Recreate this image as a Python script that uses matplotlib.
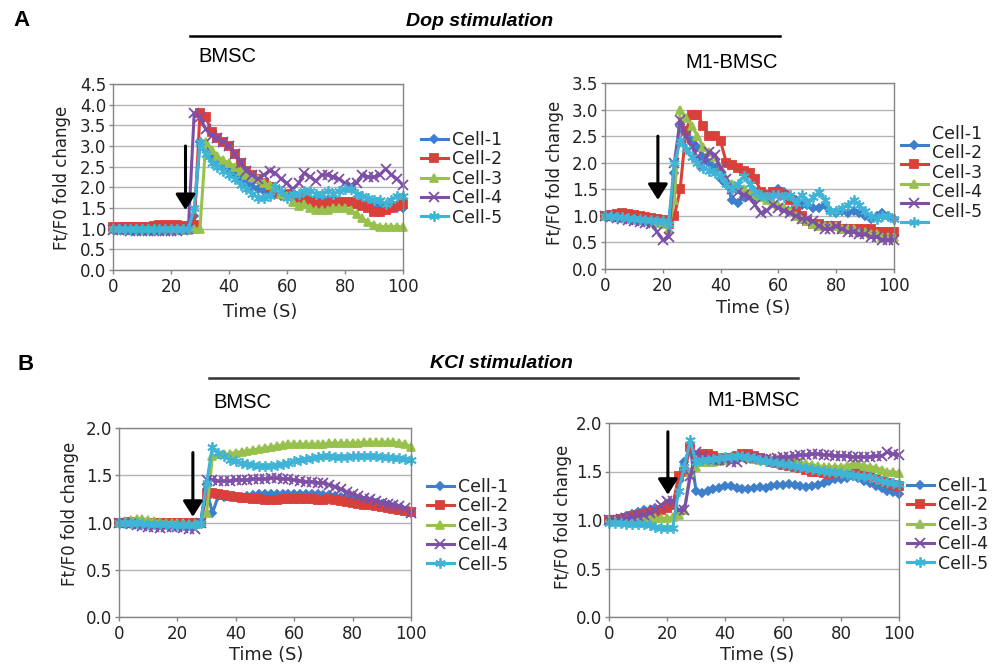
import matplotlib
matplotlib.use('Agg')
import matplotlib.pyplot as plt
from matplotlib.lines import Line2D

# ---------------- data ----------------
time_s = list(range(0, 101, 2))
cell_labels = ['Cell-1', 'Cell-2', 'Cell-3', 'Cell-4', 'Cell-5']
x_ticks = [0, 20, 40, 60, 80, 100]
y_ticks_dop_bmsc = [0.0, 0.5, 1.0, 1.5, 2.0, 2.5, 3.0, 3.5, 4.0, 4.5]
y_ticks_dop_m1 = [0.0, 0.5, 1.0, 1.5, 2.0, 2.5, 3.0, 3.5]
y_ticks_kcl = [0.0, 0.5, 1.0, 1.5, 2.0]

# Dop stimulation, BMSC
dop_bmsc_c1 = [1.00, 1.00, 1.01, 1.00, 1.00, 1.00, 0.99, 1.00, 1.00, 1.00,
               1.00, 1.00, 1.00, 1.00, 1.30, 3.10, 2.90, 2.70, 2.60, 2.50,
               2.40, 2.30, 2.20, 2.10, 2.00, 1.95, 1.90, 1.85, 1.85, 1.80,
               1.80, 1.80, 1.75, 1.75, 1.70, 1.70, 1.70, 1.70, 1.70, 1.65,
               1.65, 1.65, 1.60, 1.60, 1.60, 1.60, 1.55, 1.55, 1.50, 1.50,
               1.50]
dop_bmsc_c2 = [1.05, 1.05, 1.05, 1.05, 1.04, 1.05, 1.05, 1.06, 1.08, 1.10,
               1.10, 1.08, 1.06, 1.05, 1.10, 3.80, 3.70, 3.35, 3.20, 3.10,
               3.00, 2.80, 2.60, 2.40, 2.30, 2.20, 2.10, 2.00, 1.90, 1.85,
               1.85, 1.80, 1.75, 1.70, 1.65, 1.60, 1.60, 1.60, 1.65, 1.65,
               1.65, 1.65, 1.60, 1.55, 1.50, 1.40, 1.40, 1.45, 1.50, 1.55,
               1.60]
dop_bmsc_c3 = [0.98, 0.98, 0.98, 0.97, 0.97, 0.97, 0.97, 0.97, 0.97, 0.97,
               0.97, 0.97, 0.97, 0.97, 0.98, 1.00, 3.10, 2.90, 2.75, 2.65,
               2.60, 2.50, 2.40, 2.30, 2.25, 2.20, 2.10, 2.05, 2.00, 1.85,
               1.80, 1.65, 1.55, 1.60, 1.50, 1.45, 1.45, 1.45, 1.50, 1.50,
               1.50, 1.45, 1.35, 1.25, 1.15, 1.10, 1.05, 1.05, 1.05, 1.05,
               1.05]
dop_bmsc_c4 = [0.97, 0.96, 0.96, 0.95, 0.95, 0.95, 0.95, 0.95, 0.95, 0.95,
               0.95, 0.95, 0.96, 1.00, 3.80, 3.70, 3.40, 3.25, 3.20, 3.10,
               3.00, 2.80, 2.60, 2.40, 2.30, 2.20, 2.30, 2.40, 2.35, 2.20,
               2.10, 1.95, 2.10, 2.35, 2.25, 2.15, 2.30, 2.30, 2.25, 2.20,
               2.10, 2.05, 2.10, 2.30, 2.25, 2.25, 2.30, 2.45, 2.30, 2.20,
               2.05]
dop_bmsc_c5 = [1.00, 1.00, 0.99, 0.98, 0.98, 0.98, 0.98, 0.98, 0.98, 0.98,
               0.98, 0.98, 0.98, 0.99, 1.50, 3.10, 2.80, 2.60, 2.50, 2.40,
               2.30, 2.20, 2.05, 1.95, 1.85, 1.75, 1.75, 1.80, 2.00, 1.90,
               1.75, 1.85, 1.85, 1.90, 1.90, 1.85, 1.85, 1.90, 1.85, 1.90,
               1.95, 1.95, 1.85, 1.80, 1.75, 1.70, 1.70, 1.60, 1.70, 1.80,
               1.80]

# Dop stimulation, M1-BMSC
dop_m1_c1 = [1.00, 0.99, 0.98, 0.97, 0.96, 0.95, 0.94, 0.93, 0.92, 0.91,
             0.90, 0.85, 1.80, 2.70, 2.60, 2.40, 2.30, 2.10, 2.00, 1.90,
             1.70, 1.60, 1.30, 1.25, 1.35, 1.40, 1.30, 1.35, 1.40, 1.45,
             1.50, 1.45, 1.35, 1.30, 1.20, 1.20, 1.15, 1.15, 1.20, 1.10,
             1.05, 1.10, 1.05, 1.10, 1.05, 1.00, 0.95, 1.00, 1.05, 1.00,
             0.95]
dop_m1_c2 = [1.00, 1.02, 1.04, 1.05, 1.04, 1.02, 1.00, 0.98, 0.96, 0.94,
             0.92, 0.85, 1.00, 1.50, 2.60, 2.90, 2.90, 2.70, 2.50, 2.50,
             2.40, 2.00, 1.95, 1.90, 1.85, 1.80, 1.70, 1.45, 1.40, 1.45,
             1.45, 1.40, 1.30, 1.10, 1.00, 0.90, 0.85, 0.85, 0.80, 0.80,
             0.80, 0.75, 0.75, 0.75, 0.75, 0.75, 0.75, 0.70, 0.70, 0.70,
             0.70]
dop_m1_c3 = [1.00, 0.99, 0.98, 0.97, 0.96, 0.95, 0.93, 0.91, 0.89, 0.87,
             0.85, 0.75, 1.30, 3.00, 2.85, 2.70, 2.50, 2.30, 2.20, 2.10,
             1.90, 1.70, 1.60, 1.55, 1.50, 1.45, 1.40, 1.35, 1.30, 1.25,
             1.20, 1.15, 1.10, 1.00, 0.95, 0.90, 0.85, 0.80, 0.80, 0.80,
             0.80, 0.75, 0.75, 0.75, 0.70, 0.70, 0.65, 0.65, 0.60, 0.60,
             0.60]
dop_m1_c4 = [1.00, 0.98, 0.96, 0.94, 0.92, 0.90, 0.88, 0.86, 0.85, 0.70,
             0.55, 0.60, 2.00, 2.80, 2.50, 2.30, 2.10, 1.95, 2.20, 2.15,
             1.90, 1.70, 1.50, 1.45, 1.40, 1.35, 1.20, 1.05, 1.10, 1.20,
             1.15, 1.10, 1.05, 1.00, 0.95, 0.95, 0.90, 0.80, 0.75, 0.75,
             0.80, 0.75, 0.70, 0.70, 0.65, 0.65, 0.60, 0.60, 0.55, 0.55,
             0.55]
dop_m1_c5 = [1.00, 0.99, 0.98, 0.97, 0.96, 0.95, 0.94, 0.93, 0.92, 0.91,
             0.90, 0.85, 2.00, 2.40, 2.25, 2.10, 2.00, 1.90, 1.85, 1.80,
             1.75, 1.60, 1.50, 1.60, 1.75, 1.60, 1.45, 1.40, 1.35, 1.40,
             1.40, 1.35, 1.40, 1.25, 1.40, 1.25, 1.35, 1.45, 1.30, 1.10,
             1.10, 1.15, 1.20, 1.30, 1.20, 1.10, 1.00, 0.95, 1.00, 1.00,
             0.95]

# KCl stimulation, BMSC
kcl_bmsc_c1 = [1.00, 1.00, 1.00, 1.00, 1.00, 0.99, 0.99, 0.99, 0.98, 0.98,
               0.98, 0.98, 0.98, 0.98, 1.00, 1.35, 1.10, 1.28, 1.27, 1.27,
               1.27, 1.27, 1.28, 1.29, 1.30, 1.30, 1.30, 1.30, 1.30, 1.30,
               1.30, 1.30, 1.30, 1.30, 1.30, 1.29, 1.29, 1.28, 1.27, 1.26,
               1.25, 1.24, 1.23, 1.22, 1.21, 1.20, 1.18, 1.16, 1.14, 1.12,
               1.10]
kcl_bmsc_c2 = [1.00, 1.00, 1.01, 1.01, 1.00, 1.00, 1.00, 1.00, 1.00, 0.99,
               0.99, 0.99, 0.99, 0.99, 1.00, 1.30, 1.31, 1.30, 1.29, 1.28,
               1.27, 1.26, 1.26, 1.25, 1.25, 1.24, 1.24, 1.24, 1.25, 1.25,
               1.25, 1.25, 1.25, 1.25, 1.24, 1.24, 1.25, 1.24, 1.23, 1.22,
               1.21, 1.20, 1.19, 1.18, 1.17, 1.16, 1.15, 1.14, 1.13, 1.12,
               1.11]
kcl_bmsc_c3 = [1.00, 1.02, 1.03, 1.04, 1.04, 1.03, 1.02, 1.01, 1.00, 1.00,
               0.99, 0.99, 0.98, 0.98, 1.00, 1.10, 1.70, 1.72, 1.72, 1.73,
               1.74, 1.75, 1.76, 1.77, 1.78, 1.79, 1.80, 1.81, 1.82, 1.83,
               1.83, 1.83, 1.83, 1.83, 1.83, 1.83, 1.84, 1.84, 1.84, 1.84,
               1.84, 1.84, 1.85, 1.85, 1.85, 1.85, 1.85, 1.85, 1.84, 1.83,
               1.80]
kcl_bmsc_c4 = [1.00, 0.99, 0.98, 0.97, 0.96, 0.95, 0.95, 0.94, 0.95, 0.95,
               0.95, 0.94, 0.93, 0.93, 1.00, 1.45, 1.45, 1.44, 1.44, 1.44,
               1.45, 1.45, 1.45, 1.46, 1.46, 1.46, 1.47, 1.47, 1.46, 1.46,
               1.45, 1.44, 1.43, 1.43, 1.42, 1.42, 1.40, 1.38, 1.35, 1.32,
               1.30, 1.28, 1.26, 1.25, 1.23, 1.21, 1.20, 1.19, 1.17, 1.15,
               1.10]
kcl_bmsc_c5 = [1.00, 1.00, 0.99, 0.99, 0.99, 0.98, 0.98, 0.98, 0.98, 0.97,
               0.97, 0.97, 0.97, 0.97, 1.00, 1.42, 1.80, 1.74, 1.70, 1.66,
               1.65, 1.63, 1.62, 1.61, 1.60, 1.60, 1.60, 1.61, 1.62, 1.63,
               1.65, 1.66, 1.67, 1.68, 1.69, 1.70, 1.70, 1.69, 1.69, 1.69,
               1.70, 1.70, 1.70, 1.70, 1.70, 1.69, 1.69, 1.68, 1.68, 1.67,
               1.66]

# KCl stimulation, M1-BMSC
kcl_m1_c1 = [1.00, 1.00, 1.02, 1.04, 1.06, 1.08, 1.10, 1.10, 1.12, 1.12,
             1.14, 1.15, 1.40, 1.60, 1.75, 1.30, 1.28, 1.30, 1.32, 1.33,
             1.35, 1.35, 1.33, 1.32, 1.32, 1.33, 1.34, 1.33, 1.35, 1.36,
             1.36, 1.37, 1.36, 1.35, 1.34, 1.35, 1.36, 1.38, 1.40, 1.42,
             1.42, 1.43, 1.45, 1.43, 1.40, 1.38, 1.35, 1.33, 1.30, 1.29,
             1.27]
kcl_m1_c2 = [1.00, 1.00, 1.01, 1.02, 1.04, 1.05, 1.06, 1.07, 1.08, 1.10,
             1.12, 1.15, 1.45, 1.50, 1.75, 1.60, 1.68, 1.68, 1.66, 1.64,
             1.63, 1.64, 1.66, 1.68, 1.68, 1.66, 1.64, 1.62, 1.60, 1.59,
             1.57, 1.56, 1.55, 1.54, 1.52, 1.50, 1.49, 1.48, 1.47, 1.48,
             1.50, 1.50, 1.50, 1.50, 1.48, 1.45, 1.42, 1.40, 1.38, 1.36,
             1.35]
kcl_m1_c3 = [1.00, 0.99, 0.99, 1.00, 1.00, 1.01, 1.01, 1.02, 1.02, 1.02,
             1.02, 1.03, 1.05, 1.10, 1.50, 1.55, 1.60, 1.60, 1.60, 1.61,
             1.62, 1.63, 1.65, 1.65, 1.64, 1.63, 1.62, 1.62, 1.62, 1.63,
             1.63, 1.62, 1.61, 1.60, 1.58, 1.57, 1.56, 1.55, 1.55, 1.55,
             1.55, 1.56, 1.58, 1.58, 1.56, 1.55, 1.54, 1.52, 1.50, 1.50,
             1.48]
kcl_m1_c4 = [1.00, 1.00, 1.01, 1.02, 1.03, 1.04, 1.05, 1.07, 1.10, 1.15,
             1.20, 1.20, 1.10, 1.10, 1.45, 1.70, 1.66, 1.63, 1.62, 1.62,
             1.62, 1.60, 1.60, 1.63, 1.65, 1.64, 1.63, 1.63, 1.63, 1.64,
             1.65, 1.65, 1.66, 1.67, 1.67, 1.68, 1.68, 1.67, 1.67, 1.66,
             1.66, 1.66, 1.65, 1.65, 1.65, 1.65, 1.66, 1.66, 1.70, 1.68,
             1.67]
kcl_m1_c5 = [0.97, 0.97, 0.97, 0.96, 0.96, 0.96, 0.96, 0.95, 0.93, 0.92,
             0.92, 0.92, 1.30, 1.55, 1.82, 1.60, 1.62, 1.62, 1.63, 1.64,
             1.65, 1.65, 1.66, 1.66, 1.65, 1.64, 1.62, 1.61, 1.60, 1.59,
             1.58, 1.57, 1.56, 1.55, 1.54, 1.53, 1.52, 1.51, 1.50, 1.49,
             1.48, 1.47, 1.46, 1.45, 1.45, 1.44, 1.42, 1.40, 1.39, 1.38,
             1.37]

# stimulus arrow positions (time, top value, tip value)
arrow_dop_bmsc = (25, 3.0, 1.45)
arrow_dop_m1 = (18.3, 2.5, 1.30)
arrow_kcl_bmsc = (25.3, 1.74, 1.06)
arrow_kcl_m1 = (20.3, 1.91, 1.26)

# ---------------- style ----------------
W, H = 993, 668
colors = ['#3D7FCB', '#D9403A', '#97C14C', '#7E4FA6', '#3FB4D6']
markers = ['D', 's', '^', 'x', (6, 2, 0)]
msizes = [4.5, 5.5, 6, 6.5, 7.5]
FONT = 'DejaVu Sans'
TFONT = 'Liberation Sans'


def fx(x):
    return x / W


def fy(y):
    return 1 - y / H


fig = plt.figure(figsize=(W / 100, H / 100), dpi=100)

panels = [
    dict(box=(113, 84, 403, 270), series=[dop_bmsc_c1, dop_bmsc_c2, dop_bmsc_c3, dop_bmsc_c4, dop_bmsc_c5],
         yt=y_ticks_dop_bmsc, arrow=arrow_dop_bmsc, leg=(421, 131), legshift=0,
         ylab=(62, 178), xlab=(260, 312)),
    dict(box=(605, 83, 894, 269), series=[dop_m1_c1, dop_m1_c2, dop_m1_c3, dop_m1_c4, dop_m1_c5],
         yt=y_ticks_dop_m1, arrow=arrow_dop_m1, leg=(901, 137), legshift=12,
         ylab=(555, 173), xlab=(753, 308)),
    dict(box=(119, 428, 411, 617), series=[kcl_bmsc_c1, kcl_bmsc_c2, kcl_bmsc_c3, kcl_bmsc_c4, kcl_bmsc_c5],
         yt=y_ticks_kcl, arrow=arrow_kcl_bmsc, leg=(427, 478), legshift=0,
         ylab=(70, 514), xlab=(266, 655)),
    dict(box=(609, 423, 899, 617), series=[kcl_m1_c1, kcl_m1_c2, kcl_m1_c3, kcl_m1_c4, kcl_m1_c5],
         yt=y_ticks_kcl, arrow=arrow_kcl_m1, leg=(907, 477), legshift=0,
         ylab=(563, 517), xlab=(757, 655)),
]

for p in panels:
    x0, y0, x1, y1 = p['box']
    ax = fig.add_axes([fx(x0), fy(y1), (x1 - x0) / W, (y1 - y0) / H])
    for vals, lab, c, m, ms in zip(p['series'], cell_labels, colors, markers, msizes):
        ax.plot(time_s, vals, color=c, marker=m, ms=ms, mew=1.3, lw=2.2,
                label=lab, clip_on=False)
    ax.set_xlim(0, 100)
    ax.set_ylim(p['yt'][0], p['yt'][-1])
    ax.set_xticks(x_ticks)
    ax.set_yticks(p['yt'])
    ax.set_yticklabels(['%.1f' % v for v in p['yt']])
    ax.yaxis.grid(True, color='#B4B4B4', lw=1.0)
    ax.set_axisbelow(True)
    for s in ax.spines.values():
        s.set_color('#858585')
        s.set_linewidth(1.0)
    ax.tick_params(direction='out', length=3, width=1, color='#858585',
                   labelsize=12, labelcolor='#222222')
    ax.tick_params(axis='y', pad=2)
    ax.tick_params(axis='x', pad=2.5)
    for t in ax.get_xticklabels() + ax.get_yticklabels():
        t.set_fontfamily(FONT)

    at, atop, atip = p['arrow']
    ax.annotate('', xy=(at, atip), xytext=(at, atop),
                arrowprops=dict(arrowstyle='-|>,head_length=0.95,head_width=0.6',
                                mutation_scale=10, lw=2.2, color='black',
                                shrinkA=0, shrinkB=0))

    lx, ly = p['leg']
    leg = ax.legend(loc='upper left', bbox_to_anchor=(fx(lx), fy(ly)),
                    bbox_transform=fig.transFigure, frameon=False,
                    prop={'family': FONT, 'size': 12.5}, handlelength=1.55,
                    handletextpad=0.25, labelspacing=0.08, borderpad=0,
                    borderaxespad=0)
    for t in leg.get_texts():
        t.set_color('#222222')
        if p['legshift']:
            t.set_y(p['legshift'])

    fig.text(fx(p['ylab'][0]), fy(p['ylab'][1]), 'Ft/F0 fold change', rotation=90,
             ha='center', va='center', fontsize=12, family=FONT, color='#222222')
    fig.text(fx(p['xlab'][0]), fy(p['xlab'][1]), 'Time (S)', ha='center',
             va='center', fontsize=12.8, family=FONT, color='#222222')

# ---------------- headers ----------------
fig.text(fx(22), fy(20), 'A', ha='center', va='center', fontsize=16,
         fontweight='bold', family=TFONT)
fig.text(fx(480), fy(21), 'Dop stimulation', ha='center', va='center',
         fontsize=14, fontweight='bold', fontstyle='italic', family=TFONT)
fig.add_artist(Line2D([fx(190), fx(780)], [fy(36), fy(36)], color='black', lw=1.8))
fig.text(fx(227), fy(57), 'BMSC', ha='center', va='center', fontsize=14.5, family=TFONT)
fig.text(fx(732), fy(63), 'M1-BMSC', ha='center', va='center', fontsize=14.5, family=TFONT)

fig.text(fx(26), fy(365), 'B', ha='center', va='center', fontsize=16,
         fontweight='bold', family=TFONT)
fig.text(fx(501), fy(363), 'KCl stimulation', ha='center', va='center',
         fontsize=14, fontweight='bold', fontstyle='italic', family=TFONT)
fig.add_artist(Line2D([fx(209), fx(798)], [fy(378), fy(378)], color='#333333', lw=1.8))
fig.text(fx(242), fy(402), 'BMSC', ha='center', va='center', fontsize=14.5, family=TFONT)
fig.text(fx(754), fy(401), 'M1-BMSC', ha='center', va='center', fontsize=14.5, family=TFONT)

fig.savefig('out.png', dpi=100)
